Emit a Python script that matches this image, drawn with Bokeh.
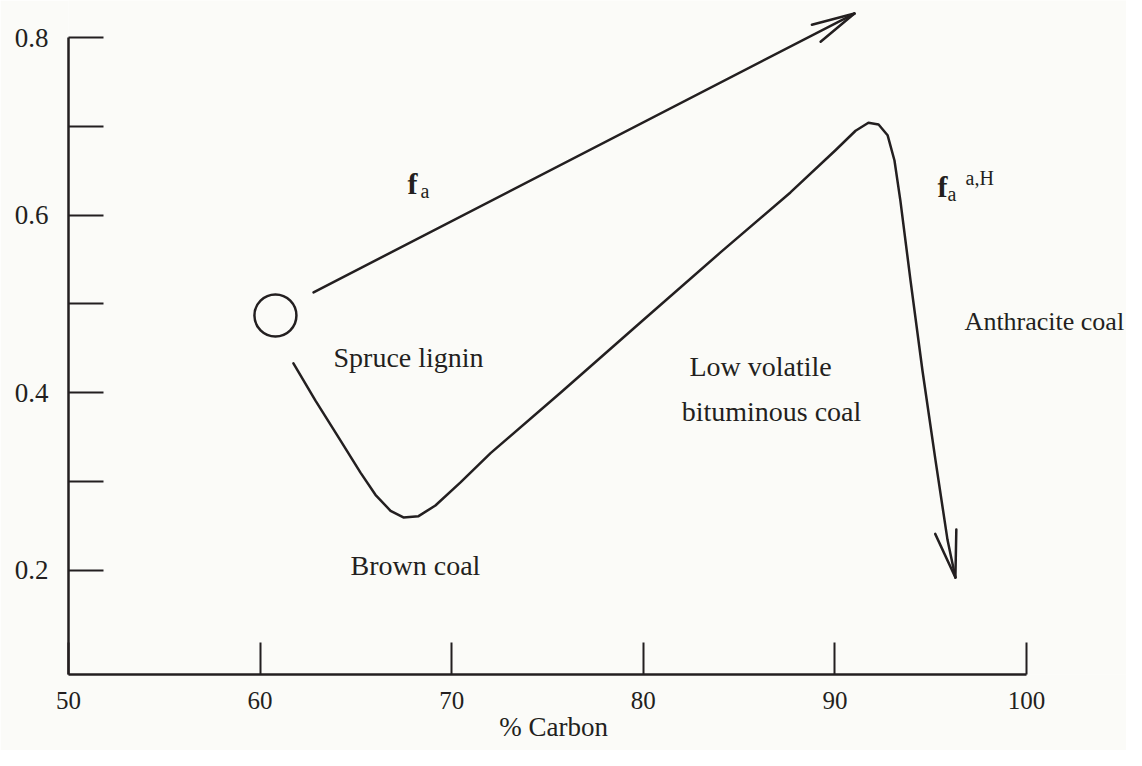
import math
from bokeh.plotting import figure
from bokeh.models import Range1d, FixedTicker, Label
from bokeh.embed import file_html
from bokeh.resources import INLINE

# ---------------- data ----------------
x_ticks = [50, 60, 70, 80, 90, 100]
y_ticks = [0.2, 0.3, 0.4, 0.5, 0.6, 0.7, 0.8]
y_tick_labels = {0.2: "0.2", 0.3: "", 0.4: "0.4", 0.5: "", 0.6: "0.6", 0.7: "", 0.8: "0.8"}

# spruce lignin starting point (circle)
lignin_x = [60.8]
lignin_y = [0.487]

# f_a trend line (arrow)
fa_x = [62.79, 91.02]
fa_y = [0.513, 0.827]

# f_a^{a,H} curve (ends in an arrow)
faH_x = [61.74, 62.89, 64.20, 65.24, 66.02, 66.81, 67.48, 68.27, 69.15, 70.46,
         72.03, 75.68, 79.85, 84.03, 87.68, 90.03, 91.08, 91.75, 92.28, 92.75,
         93.11, 93.42, 93.95, 94.57, 95.25, 95.88, 96.29]
faH_y = [0.433, 0.391, 0.346, 0.310, 0.285, 0.267, 0.2595, 0.261, 0.273, 0.299,
         0.332, 0.400, 0.479, 0.558, 0.6255, 0.673, 0.695, 0.704, 0.702, 0.690,
         0.6615, 0.616, 0.526, 0.425, 0.324, 0.234, 0.192]

# annotation texts
region_text = ["Spruce lignin", "Brown coal"]
region_x = [63.83, 64.72]
region_y = [0.4396, 0.2054]
anthracite_text = "Anthracite coal"
anthracite_x = 96.77
anthracite_y = 0.4797
coal_lines = ["Low volatile", "bituminous coal"]
coal_x = [86.12, 86.69]
coal_y = [0.4296, 0.379]

x_title = "% Carbon"

# ---------------- layout / style ----------------
W, H = 1126, 750
B_LEFT, B_RIGHT, B_TOP, B_BOTTOM = 68, 0, 0, 76
X0 = 50
X1 = 105.22
Y0, Y1 = 0.08266, 0.84167
INK = "#231f20"
BG = "#fbfbf8"
SERIF = "Liberation Serif"
LW = 2.5
NBSP = "\u00a0"

p = figure(width=W, height=H, x_range=Range1d(X0, X1), y_range=Range1d(Y0, Y1),
           output_backend="svg", toolbar_location=None,
           min_border_left=B_LEFT, min_border_right=B_RIGHT,
           min_border_top=B_TOP, min_border_bottom=B_BOTTOM,
           background_fill_color=BG, border_fill_color=BG,
           outline_line_color=None)
p.grid.visible = False

# x axis
xa = p.xaxis[0]
xa.ticker = FixedTicker(ticks=x_ticks)
xa.bounds = (x_ticks[0], x_ticks[-1])
xa.major_tick_in = 32
xa.major_tick_out = 0
xa.minor_tick_line_color = None
xa.axis_line_width = LW
xa.axis_line_color = INK
xa.major_tick_line_width = 2
xa.major_tick_line_color = INK
xa.major_label_text_font = SERIF
xa.major_label_text_font_size = "25px"
xa.major_label_text_color = INK
xa.major_label_standoff = 17
# the title is centred on the frame; trailing no-break spaces re-centre it under the 50-100 axis
xa.axis_label = x_title + NBSP * 13
xa.axis_label_text_font = SERIF
xa.axis_label_text_font_size = "27px"
xa.axis_label_text_font_style = "normal"
xa.axis_label_text_color = INK
xa.axis_label_standoff = 0

# y axis
ya = p.yaxis[0]
ya.ticker = FixedTicker(ticks=y_ticks)
ya.bounds = (Y0, y_ticks[-1])
ya.major_label_overrides = y_tick_labels
ya.major_tick_in = 35
ya.major_tick_out = 0
ya.minor_tick_line_color = None
ya.axis_line_width = LW
ya.axis_line_color = INK
ya.major_tick_line_width = 2
ya.major_tick_line_color = INK
ya.major_label_text_font = SERIF
ya.major_label_text_font_size = "27px"
ya.major_label_text_color = INK
ya.major_label_standoff = 20

# pixel scale, used for arrow heads
fw = W - B_LEFT - B_RIGHT
fh = H - B_TOP - B_BOTTOM
sx = fw / (X1 - X0)
sy = fh / (Y1 - Y0)


def barbs(xa_, ya_, xb_, yb_, length, angle_deg):
    dx = (xa_ - xb_) * sx
    dy = (ya_ - yb_) * sy
    n = math.hypot(dx, dy)
    ux, uy = dx / n, dy / n
    ex, ey = [], []
    for s in (1, -1):
        a = math.radians(angle_deg) * s
        rx = ux * math.cos(a) - uy * math.sin(a)
        ry = ux * math.sin(a) + uy * math.cos(a)
        ex.append(xb_ + rx * length / sx)
        ey.append(yb_ + ry * length / sy)
    return ex, ey


# f_a line with arrow
p.line(fa_x, fa_y, line_width=LW, line_color=INK, line_cap="round")
bx, by = barbs(fa_x[0], fa_y[0], fa_x[-1], fa_y[-1], 44, 12.5)
p.segment(x0=[fa_x[-1]] * 2, y0=[fa_y[-1]] * 2, x1=bx, y1=by,
          line_width=LW, line_color=INK, line_cap="round")

# f_a^{a,H} curve with arrow
p.line(faH_x, faH_y, line_width=LW, line_color=INK, line_join="round", line_cap="round")
bx2, by2 = barbs(faH_x[-2], faH_y[-2], faH_x[-1], faH_y[-1], 48, 13)
p.segment(x0=[faH_x[-1]] * 2, y0=[faH_y[-1]] * 2, x1=bx2, y1=by2,
          line_width=LW, line_color=INK, line_cap="round")

# spruce lignin circle
p.scatter(lignin_x, lignin_y, marker="circle", size=42, fill_color=None,
          line_color=INK, line_width=LW)

# texts
for t, x, y in zip(region_text, region_x, region_y):
    p.add_layout(Label(x=x, y=y, text=t, text_font=SERIF, text_font_size="28px",
                       text_color=INK, text_baseline="alphabetic", text_align="left"))
p.add_layout(Label(x=anthracite_x, y=anthracite_y, text=anthracite_text, text_font=SERIF,
                   text_font_size="26px", text_color=INK, text_baseline="alphabetic",
                   text_align="left"))
for t, x, y in zip(coal_lines, coal_x, coal_y):
    p.add_layout(Label(x=x, y=y, text=t, text_font=SERIF, text_font_size="28px",
                       text_color=INK, text_baseline="alphabetic", text_align="center"))

# f_a label
p.add_layout(Label(x=67.69, y=0.6356, text="f", text_font=SERIF, text_font_size="30px",
                   text_font_style="bold", text_color=INK, text_baseline="alphabetic"))
p.add_layout(Label(x=68.37, y=0.6266, text="a", text_font=SERIF, text_font_size="20px",
                   text_color=INK, text_baseline="alphabetic"))
# f_a^{a,H} label
p.add_layout(Label(x=95.35, y=0.6322, text="f", text_font=SERIF, text_font_size="30px",
                   text_font_style="bold", text_color=INK, text_baseline="alphabetic"))
p.add_layout(Label(x=95.88, y=0.6243, text="a", text_font=SERIF, text_font_size="20px",
                   text_color=INK, text_baseline="alphabetic"))
p.add_layout(Label(x=96.82, y=0.6423, text="a,H", text_font=SERIF, text_font_size="20px",
                   text_color=INK, text_baseline="alphabetic"))

open("out.html", "w").write(file_html(p, INLINE))
